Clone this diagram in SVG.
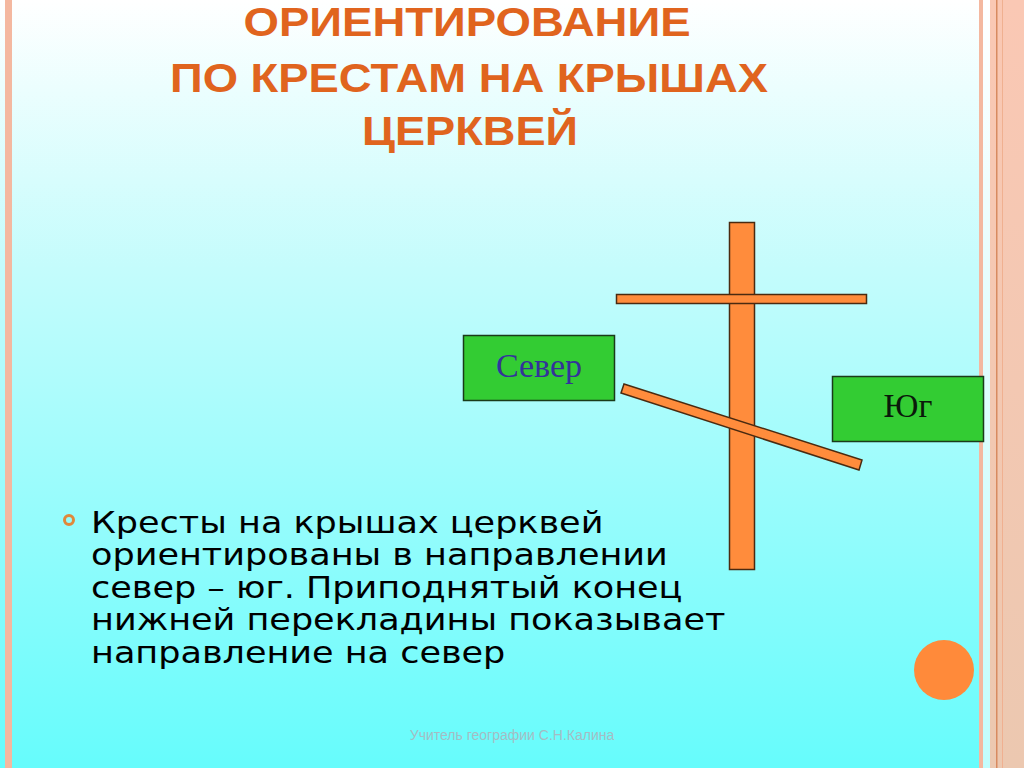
<svg xmlns="http://www.w3.org/2000/svg" width="1024" height="768" viewBox="0 0 1024 768">
<defs>
<linearGradient id="bg" x1="0" y1="0" x2="0" y2="1">
<stop offset="0" stop-color="#ffffff"/>
<stop offset="0.35" stop-color="#c4fcfc"/>
<stop offset="1" stop-color="#66fcfc"/>
</linearGradient>
<linearGradient id="side" x1="0" y1="0" x2="0" y2="1">
<stop offset="0" stop-color="#fac8b4"/>
<stop offset="1" stop-color="#ecc8b0"/>
</linearGradient>
</defs>
<style>
.title{font-family:"Liberation Sans",Arial,sans-serif;font-weight:bold;font-size:40px;fill:#e0641e;text-anchor:middle}
.body{font-family:"DejaVu Sans",sans-serif;font-size:30px;fill:#000}
.bar{fill:#ff8c3c;stroke:#4a2a10;stroke-width:1.5}
.box{fill:#33cc33;stroke:#1a3a1a;stroke-width:1.5}
.lbl{font-family:"Liberation Serif","Times New Roman",serif;font-size:34px;text-anchor:middle}
</style>
<rect width="1024" height="768" fill="url(#bg)"/>
<rect x="5" y="0" width="7" height="768" fill="#f4b8a0"/>
<rect x="979" y="0" width="4" height="768" fill="#f4b8a0"/>
<rect x="983" y="0" width="7" height="768" fill="#ffffff" opacity="0.6"/>
<rect x="990" y="0" width="34" height="768" fill="url(#side)"/>
<rect x="996" y="0" width="1.5" height="768" fill="#d88a60"/>
<rect x="1002" y="0" width="1" height="768" fill="#f0b090"/>

<g id="title">
<text class="title" x="467" y="36" textLength="447" lengthAdjust="spacingAndGlyphs">ОРИЕНТИРОВАНИЕ</text>
<text class="title" x="469" y="92" textLength="598" lengthAdjust="spacingAndGlyphs">ПО КРЕСТАМ НА КРЫШАХ</text>
<text class="title" x="470" y="145" textLength="216" lengthAdjust="spacingAndGlyphs">ЦЕРКВЕЙ</text>
</g>

<g id="cross">
<rect class="bar" x="729.5" y="222.5" width="25" height="347"/>
<rect class="bar" x="616.5" y="294.5" width="250" height="9"/>
<polygon class="bar" points="624,384 862,460 859,470 621,393"/>
</g>

<g id="north">
<rect class="box" x="463.5" y="335.5" width="151" height="65"/>
<text class="lbl" x="539" y="377" fill="#33339a">Север</text>
</g>

<g id="south">
<rect class="box" x="832.5" y="376.5" width="151" height="65"/>
<text class="lbl" x="908" y="417" fill="#0a1a0a">Юг</text>
</g>

<g id="text">
<circle cx="69" cy="520" r="4.5" fill="none" stroke="#e0883a" stroke-width="3"/>
<g transform="translate(91,0) scale(1.167,1)">
<text class="body" x="0" y="533">Кресты на крышах церквей</text>
<text class="body" x="0" y="565.5">ориентированы в направлении</text>
<text class="body" x="0" y="598">север – юг. Приподнятый конец</text>
<text class="body" x="0" y="630.5">нижней перекладины показывает</text>
<text class="body" x="0" y="663">направление на север</text>
</g>
</g>

<circle cx="944" cy="670" r="30" fill="#ff8a3a"/>
<text x="512" y="740" font-family="Liberation Sans,Arial,sans-serif" font-size="14" fill="#a4bcc4" text-anchor="middle">Учитель географии С.Н.Калина</text>
</svg>
